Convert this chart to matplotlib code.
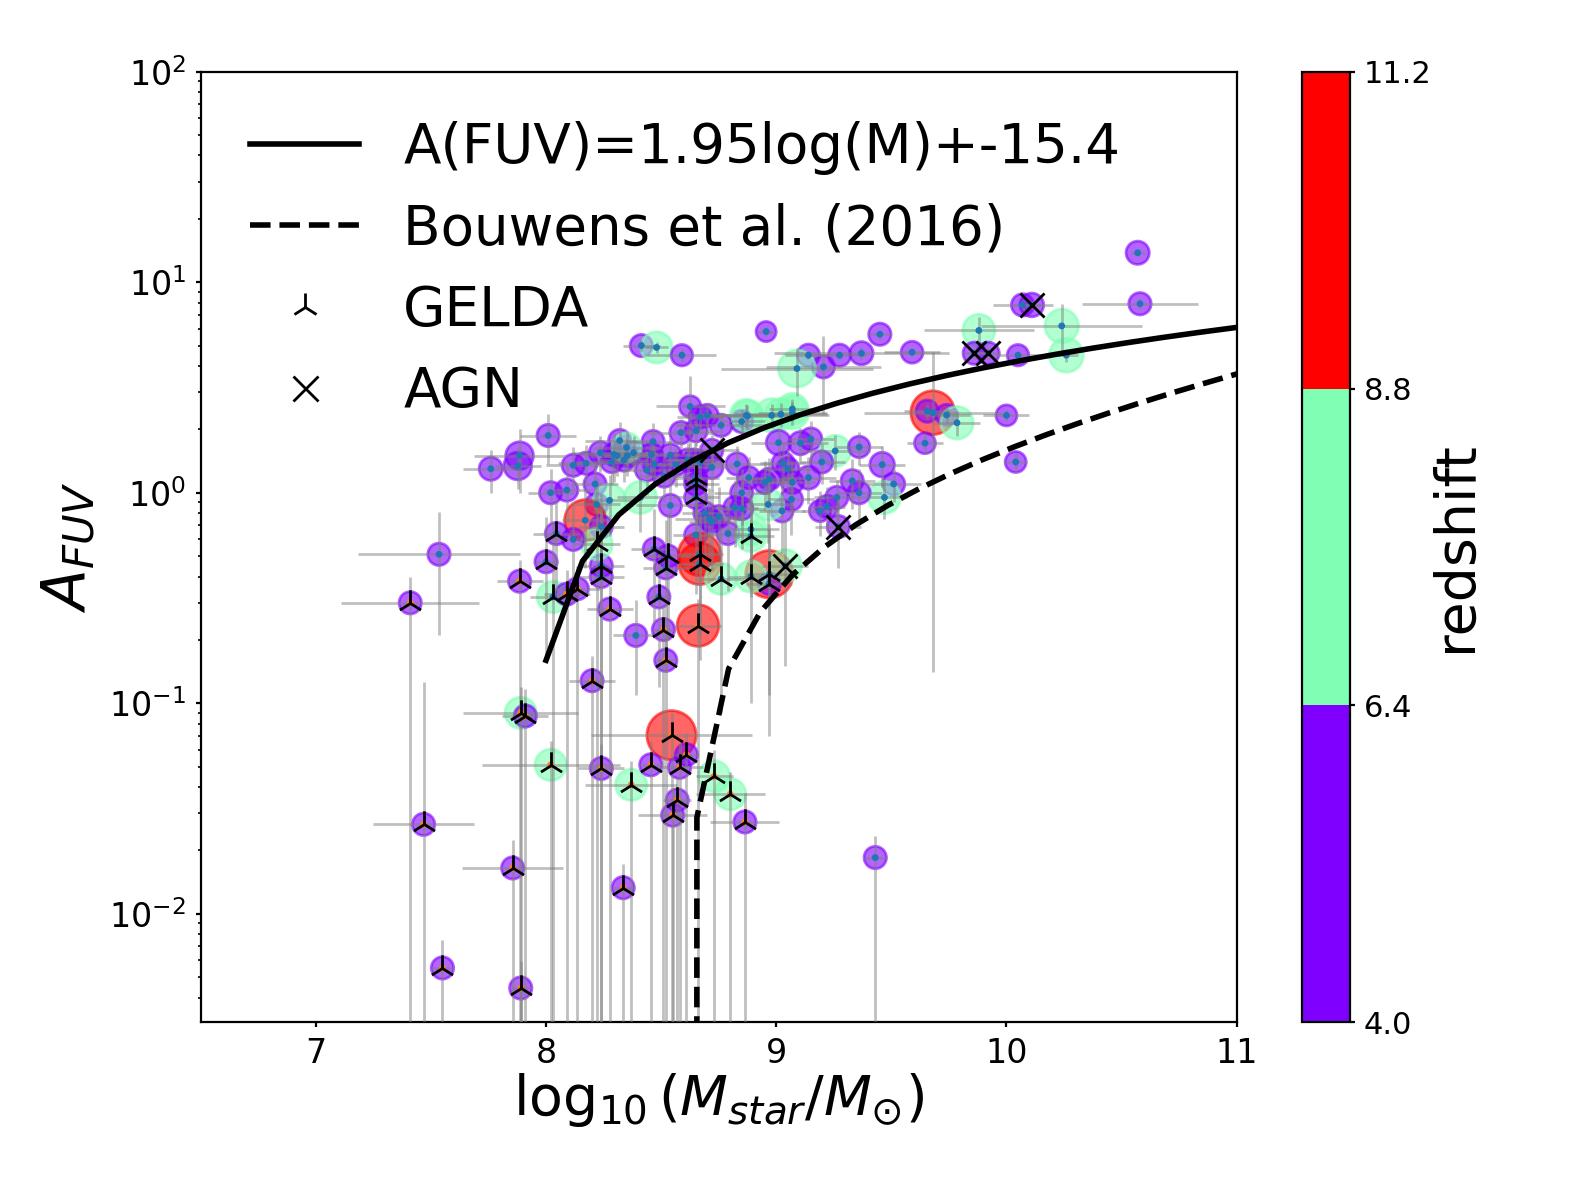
import numpy as np
import matplotlib
matplotlib.use('Agg')
import matplotlib.pyplot as plt
from matplotlib.colors import Normalize
from matplotlib.cm import ScalarMappable
from matplotlib.lines import Line2D

# ---------------- data ----------------
mass = [10.57, 10.58, 10.07, 10.11, 9.88, 10.24, 10.26, 9.86, 9.92, 10.05,
        9.59, 9.37, 9.275, 9.14, 9.205, 9.09, 9.45, 8.956, 9.68, 9.656,
        9.74, 9.785, 10.0, 9.646, 10.04, 8.87, 8.98, 9.02, 9.07, 9.07,
        8.76, 9.01, 9.105, 9.15, 9.256, 9.36, 9.197, 9.46, 9.51, 9.47,
        9.36, 9.33, 9.263, 9.22, 9.19, 9.27, 9.14, 9.066, 9.025, 9.03,
        9.05, 8.97, 8.88, 8.83, 8.85, 8.965, 8.82, 8.71, 8.89, 9.07,
        8.95, 8.414, 8.48, 8.59, 8.626, 8.67, 8.652, 8.586, 8.85, 8.875,
        8.32, 8.465, 8.294, 8.338, 8.285, 8.38, 8.458, 8.47, 8.54, 8.513,
        8.437, 8.564, 8.615, 8.645, 8.72, 8.67, 8.72, 8.65, 8.65, 8.65,
        8.009, 7.885, 7.877, 7.76, 8.118, 8.174, 8.213, 8.02, 8.09, 8.22,
        8.276, 8.41, 8.54, 8.236, 8.309, 8.353, 8.85, 8.79, 8.75, 8.89,
        8.69, 8.65, 8.47, 8.53, 8.52, 8.49, 8.51, 8.52, 8.39, 8.276,
        8.2, 8.667, 8.667, 8.66, 8.97, 8.97, 9.04, 8.76, 8.89, 8.24,
        8.24, 8.17, 8.24, 8.22, 8.045, 8.118, 8.0, 7.885, 8.03, 8.09,
        8.136, 7.535, 7.41, 7.89, 7.91, 8.02, 8.24, 8.37, 8.545, 8.61,
        8.455, 8.58, 8.73, 8.80, 8.57, 8.55, 8.864, 7.468, 7.855, 8.335,
        7.55, 7.89, 9.43, 8.35, 8.72, 8.70]

afuv = [13.8, 7.9, 7.8, 7.8, 5.9, 6.2, 4.5, 4.6, 4.6, 4.5,
        4.65, 4.6, 4.5, 4.5, 3.96, 3.89, 5.66, 5.83, 2.4, 2.44,
        2.34, 2.15, 2.33, 1.72, 1.4, 2.33, 2.33, 2.36, 2.4, 2.5,
        2.09, 1.73, 1.72, 1.8, 1.58, 1.65, 1.4, 1.36, 1.1, 0.95,
        1.0, 1.14, 0.95, 0.86, 0.82, 0.69, 1.18, 0.93, 0.82, 1.38,
        1.3, 1.16, 1.18, 1.37, 1.0, 0.88, 0.85, 0.75, 0.67, 1.12,
        1.12, 5.0, 4.9, 4.5, 2.57, 2.29, 1.97, 1.93, 2.18, 2.31,
        1.77, 1.75, 1.52, 1.43, 1.4, 1.55, 1.52, 1.37, 1.51, 1.2,
        1.28, 1.36, 1.43, 1.43, 1.59, 1.39, 1.32, 1.18, 1.1, 0.95,
        1.87, 1.5, 1.34, 1.3, 1.35, 1.38, 1.1, 1.0, 1.03, 0.88,
        0.92, 0.95, 0.87, 1.55, 1.5, 1.5, 0.84, 0.64, 0.77, 0.62,
        0.8, 0.63, 0.54, 0.50, 0.44, 0.32, 0.224, 0.16, 0.21, 0.28,
        0.128, 0.51, 0.46, 0.234, 0.41, 0.37, 0.45, 0.39, 0.40, 0.45,
        0.40, 0.74, 0.69, 0.57, 0.64, 0.6, 0.47, 0.38, 0.32, 0.33,
        0.35, 0.51, 0.30, 0.090, 0.087, 0.051, 0.049, 0.041, 0.0705, 0.057,
        0.051, 0.0496, 0.045, 0.037, 0.0347, 0.0294, 0.0273, 0.0266, 0.0165, 0.0133,
        0.00553, 0.00444, 0.0185, 1.64, 0.73, 2.33]

mass_err = [0.03, 0.25, 0.13, 0.05, 0.24, 0.35, 0.05, 0.05, 0.05, 0.10,
            0.12, 0.38, 0.12, 0.10, 0.25, 0.33, 0.05, 0.04, 0.30, 0.10,
            0.10, 0.10, 0.10, 0.08, 0.05, 0.20, 0.25, 0.20, 0.15, 0.10,
            0.20, 0.12, 0.12, 0.10, 0.15, 0.10, 0.10, 0.10, 0.12, 0.10,
            0.10, 0.10, 0.10, 0.08, 0.08, 0.10, 0.12, 0.10, 0.10, 0.10,
            0.10, 0.10, 0.10, 0.15, 0.12, 0.10, 0.10, 0.15, 0.12, 0.10,
            0.10, 0.08, 0.05, 0.15, 0.15, 0.10, 0.10, 0.15, 0.10, 0.15,
            0.15, 0.12, 0.15, 0.10, 0.15, 0.10, 0.12, 0.10, 0.12, 0.10,
            0.10, 0.10, 0.10, 0.10, 0.12, 0.10, 0.10, 0.10, 0.10, 0.10,
            0.12, 0.20, 0.10, 0.12, 0.12, 0.12, 0.10, 0.10, 0.10, 0.10,
            0.10, 0.10, 0.15, 0.12, 0.12, 0.10, 0.10, 0.10, 0.10, 0.10,
            0.10, 0.10, 0.10, 0.10, 0.10, 0.05, 0.05, 0.05, 0.10, 0.10,
            0.10, 0.10, 0.10, 0.10, 0.10, 0.10, 0.10, 0.10, 0.10, 0.10,
            0.10, 0.10, 0.10, 0.10, 0.10, 0.10, 0.05, 0.10, 0.10, 0.10,
            0.10, 0.35, 0.30, 0.25, 0.10, 0.30, 0.10, 0.20, 0.35, 0.05,
            0.05, 0.10, 0.08, 0.15, 0.06, 0.15, 0.15, 0.22, 0.22, 0.05,
            0.05, 0.05, 0.05, 0.15, 0.10, 0.10]

afuv_err = [0.5, 0.4, 0.4, 0.3, 0.9, 1.7, 0.3, 0.3, 0.3, 0.2,
            0.2, 0.3, 0.2, 0.2, 1.6, 1.0, 0.3, 0.3, 2.26, 0.2,
            0.2, 0.3, 0.15, 0.2, 0.15, 0.3, 0.3, 0.3, 0.3, 0.3,
            0.3, 0.3, 0.3, 0.4, 0.3, 0.3, 0.3, 0.3, 0.2, 0.2,
            0.3, 0.3, 0.2, 0.2, 0.2, 0.25, 0.3, 0.3, 0.3, 0.3,
            0.3, 0.3, 0.3, 0.3, 0.3, 0.3, 0.3, 0.3, 0.3, 0.3,
            0.3, 0.3, 0.3, 0.3, 1.0, 0.3, 0.3, 0.3, 0.3, 0.3,
            0.4, 0.4, 0.4, 0.3, 0.3, 0.3, 0.3, 0.3, 0.3, 0.3,
            0.3, 0.3, 0.3, 0.3, 0.3, 0.3, 0.3, 0.3, 0.3, 0.3,
            0.5, 0.5, 0.3, 0.3, 0.3, 0.3, 0.3, 0.3, 0.3, 0.3,
            0.3, 0.3, 0.3, 0.3, 0.3, 0.3, 0.3, 0.3, 0.3, 0.3,
            0.3, 0.3, 0.3, 0.3, 0.3, 0.2, 0.07, 0.05, 0.1, 0.08,
            0.04, 0.3, 0.3, 0.08, 0.3, 0.3, 0.3, 0.3, 0.3, 0.4,
            0.4, 0.3, 0.3, 0.15, 0.3, 0.3, 0.3, 0.1, 0.4, 0.1,
            0.1, 0.3, 0.1, 0.03, 0.03, 0.015, 0.015, 0.012, 0.02, 0.015,
            0.015, 0.015, 0.015, 0.01, 0.01, 0.01, 0.01, 0.1, 0.006, 0.004,
            0.002, 0.0015, 0.005, 0.3, 0.3, 0.3]

redshift = [5.2, 5.0, 5.0, 5.3, 7.2, 7.5, 7.6, 5.0, 5.0, 4.8,
            4.9, 5.2, 5.0, 5.0, 5.0, 8.3, 5.0, 4.5, 9.8, 5.0,
            4.8, 7.3, 4.7, 4.7, 4.7, 7.2, 7.5, 7.0, 7.3, 7.0,
            5.0, 5.5, 5.2, 5.0, 7.0, 4.8, 5.0, 5.5, 5.0, 7.2,
            5.0, 5.0, 5.0, 5.0, 4.8, 5.0, 5.2, 5.0, 5.0, 5.0,
            5.0, 5.0, 5.0, 5.0, 5.0, 7.0, 5.0, 5.0, 7.0, 5.0,
            5.0, 5.0, 7.0, 4.8, 4.8, 5.0, 5.0, 5.0, 5.0, 7.0,
            5.0, 5.0, 5.0, 5.0, 4.8, 5.0, 5.0, 5.0, 5.0, 5.0,
            5.0, 5.0, 5.0, 5.0, 5.0, 5.0, 5.0, 5.0, 5.0, 5.0,
            5.0, 6.2, 6.2, 5.2, 5.0, 5.0, 5.0, 5.0, 5.0, 5.0,
            7.2, 7.2, 5.0, 5.0, 5.0, 5.0, 5.0, 5.0, 5.0, 6.8,
            5.0, 5.0, 5.0, 5.0, 5.0, 5.0, 5.0, 5.0, 5.0, 5.0,
            5.0, 9.5, 9.3, 9.3, 10.6, 5.0, 7.2, 7.0, 7.0, 5.0,
            5.0, 9.2, 5.0, 7.0, 5.0, 5.0, 5.0, 5.0, 7.0, 5.0,
            5.0, 5.0, 5.0, 7.0, 5.0, 7.0, 5.0, 7.0, 11.0, 5.0,
            5.0, 5.0, 7.0, 7.0, 5.0, 5.0, 5.0, 5.0, 5.0, 5.0,
            5.0, 5.0, 5.0, 6.6, 5.0, 5.0]

gelda = [0] * 80 + [0, 0, 0, 0, 0, 0, 0, 1, 1, 1] + [0] * 10 + \
        [0, 0, 0, 0, 0, 0, 0, 0, 0, 1,
         0, 0, 1, 1, 1, 1, 1, 1, 0, 1,
         1, 1, 1, 1, 1, 1, 0, 1, 1, 1,
         1, 0, 0, 1, 1, 0, 1, 1, 1, 1,
         1, 0, 1, 1, 1, 1, 1, 1, 1, 1,
         1, 1, 1, 1, 1, 1, 1, 1, 1, 1,
         1, 1, 0, 0, 0, 0]

agn = [0, 0, 0, 1, 0, 0, 0, 1, 1, 0] + [0] * 30 + \
      [0, 0, 0, 0, 0, 1, 0, 0, 0, 0] + [0] * 30 + \
      [0, 0, 0, 0, 1, 0, 0, 0, 0, 0] + [0] * 30 + \
      [0, 0, 0, 0, 0, 0, 1, 0, 0, 0] + [0] * 36

# 1 = error bar reaches down to zero
lower_limit = [0] * 110 + \
    [0, 0, 0, 0, 0, 0, 1, 1, 0, 1,
     1, 0, 0, 1, 0, 0, 0, 0, 0, 0,
     0, 0, 0, 1, 0, 0, 0, 1, 0, 1,
     1, 0, 1, 1, 1, 1, 1, 1, 1, 1,
     1, 1, 1, 1, 1, 1, 1, 1, 1, 1,
     1, 1, 1, 0, 0, 0]

# model curves
fit_slope, fit_intercept = 1.98, -15.68
fit_label = 'A(FUV)=1.95log(M)+-15.4'
bouwens_amp, bouwens_exp, bouwens_m0 = 1.63, 0.215, 8.62

cbar_ticks = [4.0, 6.4, 8.8, 11.2]

# ---------------- plotting ----------------
mass = np.array(mass); afuv = np.array(afuv)
mass_err = np.array(mass_err); afuv_err = np.array(afuv_err)
redshift = np.array(redshift)
gelda = np.array(gelda, bool); agn = np.array(agn, bool)
lower_limit = np.array(lower_limit, bool)

fig = plt.figure(figsize=(7.89, 5.915), dpi=200)
ax = fig.add_axes([0.1272, 0.1358, 0.6565, 0.8036])
cax = fig.add_axes([0.8251, 0.1358, 0.0301, 0.8036])

cmap = plt.get_cmap('rainbow', 3)
norm = Normalize(vmin=cbar_ticks[0], vmax=cbar_ticks[-1])

ax.scatter(mass, afuv, s=2.6 * redshift ** 2, c=redshift, cmap=cmap,
           norm=norm, alpha=0.6, zorder=2)

lower = np.where(lower_limit, afuv, afuv_err)
ax.errorbar(mass, afuv, xerr=mass_err, yerr=[lower, afuv_err], fmt='none',
            ecolor='gray', elinewidth=1.0, alpha=0.5, zorder=3)
center_col = np.where(gelda & lower_limit, 'C1', 'C0')
ax.scatter(mass, afuv, s=6, c=list(center_col), zorder=3.5, linewidths=0)

ax.scatter(mass[gelda], afuv[gelda], marker='2', s=90, c='k',
           linewidths=1.0, zorder=4)
ax.scatter(mass[agn], afuv[agn], marker='x', s=75, c='k',
           linewidths=1.0, zorder=4)

xs = np.linspace(8, 11, 20)
ax.plot(xs, fit_slope * xs + fit_intercept, 'k-', lw=2, zorder=5)
xb = np.linspace(7, 11, 30)
ax.plot(xb, bouwens_amp * (10 ** (bouwens_exp * (xb - bouwens_m0)) - 1),
        'k--', lw=2, zorder=5)

ax.set_yscale('log')
ax.set_xlim(6.5, 11)
ax.set_ylim(0.00305, 100)
ax.set_xticks([7, 8, 9, 10, 11])
ax.tick_params(which='major', labelsize=12, length=1.7)
ax.tick_params(which='minor', length=1.1)
ax.set_xlabel(r'$\log_{10}(M_{star}/M_{\odot})$', fontsize=20, labelpad=0.5)
ax.set_ylabel(r'$A_{FUV}$', fontsize=21.5)

handles = [Line2D([], [], color='k', lw=2, ls='-'),
           Line2D([], [], color='k', lw=2, ls='--'),
           Line2D([], [], color='k', marker='2', ls='none', ms=10, mew=1.0),
           Line2D([], [], color='k', marker='x', ls='none', ms=9, mew=1.0)]
labels = [fit_label, 'Bouwens et al. (2016)', 'GELDA', 'AGN']
ax.legend(handles, labels, loc='upper left', frameon=False, fontsize=19.7,
          labelspacing=0.5)

sm = ScalarMappable(cmap=cmap, norm=norm)
cb = fig.colorbar(sm, cax=cax, ticks=cbar_ticks)
cb.ax.set_yticklabels([f'{t:.1f}' for t in cbar_ticks])
cb.ax.tick_params(labelsize=11, length=1.7)
cb.set_label('redshift', fontsize=20, labelpad=-1)

fig.savefig('out.png', dpi=200)
